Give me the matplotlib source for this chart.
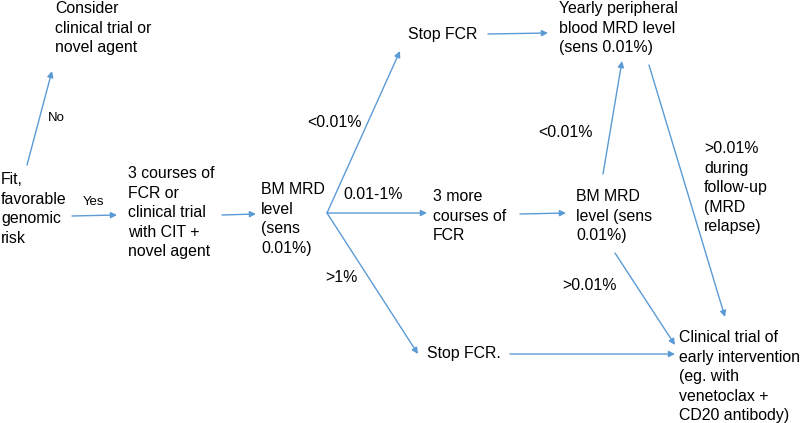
import matplotlib
matplotlib.use("Agg")
import matplotlib.pyplot as plt

plt.rcParams['font.family'] = ['Liberation Sans', 'DejaVu Sans']

BLUE = '#5B9BD5'

# node texts (left x, cap-top y in pixels)
node_labels = [
    "Consider\nclinical trial or\nnovel agent",
    "Fit,\nfavorable\ngenomic\nrisk",
    "3 courses of\nFCR or\nclinical trial\nwith CIT +\nnovel agent",
    "BM MRD\nlevel\n(sens\n0.01%)",
    "Stop FCR",
    "3 more\ncourses of\nFCR",
    "Stop FCR.",
    "Yearly peripheral\nblood MRD level\n(sens 0.01%)",
    "BM MRD\nlevel (sens\n0.01%)",
    "Clinical trial of\nearly intervention\n(eg. with\nvenetoclax +\nCD20 antibody)",
]
node_x = [55, 1, 128, 261, 408, 433, 427, 559, 576, 679]
node_y = [1, 172, 166, 182, 27, 189, 346, 1, 189, 330]

# branch labels
branch_labels = ["No", "Yes", "<0.01%", "0.01-1%", ">1%", "<0.01%",
                 ">0.01%\nduring\nfollow-up\n(MRD\nrelapse)", ">0.01%"]
branch_x = [48, 83, 307, 343, 325, 538, 704, 562]
branch_y = [112, 196, 115, 187, 270, 125, 141, 278]
branch_size = [9.5, 9.5, 11.4, 11.4, 11.4, 11.4, 11.4, 11.4]

# arrows: start -> end
arrow_start = [(27, 165), (72, 216), (222, 215), (327, 213), (327, 213), (327, 213),
               (488, 34), (520, 214), (603, 174), (649, 65), (615, 253), (510, 354)]
arrow_end = [(52, 71), (117, 215), (256, 214), (400, 51), (427, 213), (418, 354),
             (548, 33), (566, 213), (622, 61), (725, 317), (675, 345), (675, 354)]

fig = plt.figure(figsize=(8, 4.23), dpi=100)
ax = fig.add_axes([0, 0, 1, 1])
ax.set_xlim(0, 800)
ax.set_ylim(423, 0)
ax.axis('off')

for txt, x, y in zip(node_labels, node_x, node_y):
    ax.text(x, y, txt, fontsize=11.4, ha='left', va='top', linespacing=1.38, color='black')

for txt, x, y, s in zip(branch_labels, branch_x, branch_y, branch_size):
    ax.text(x, y, txt, fontsize=s, ha='left', va='top', linespacing=1.38, color='black')

for s, e in zip(arrow_start, arrow_end):
    ax.annotate('', xy=e, xytext=s,
                arrowprops=dict(arrowstyle='-|>', color=BLUE, lw=1,
                                mutation_scale=9, shrinkA=0, shrinkB=0))

fig.savefig('out.png', dpi=100)
